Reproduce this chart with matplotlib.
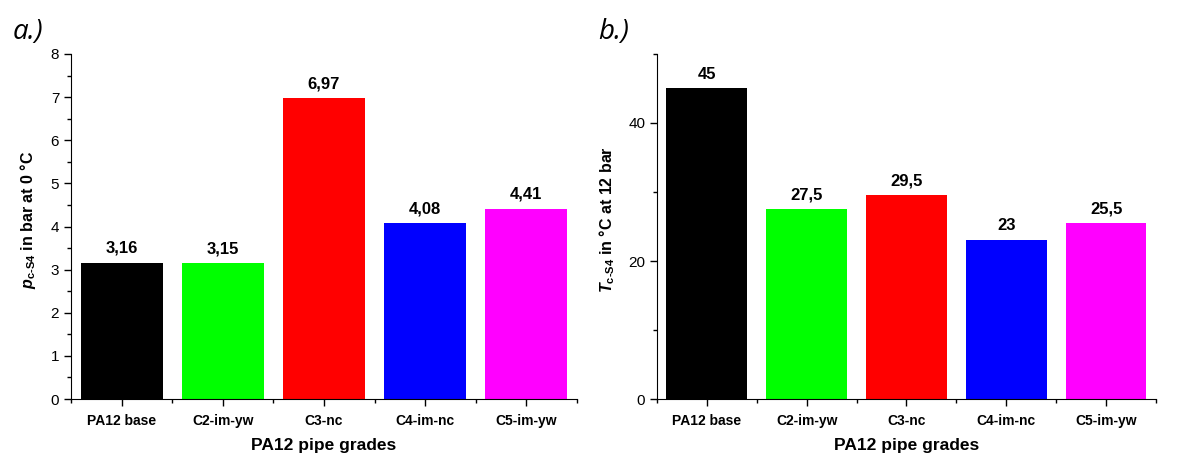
import numpy as np
import matplotlib
matplotlib.use('Agg')
import matplotlib.pyplot as plt
from matplotlib.ticker import MultipleLocator

plt.rcParams['font.family'] = 'Liberation Sans'
plt.rcParams['mathtext.fontset'] = 'custom'
plt.rcParams['mathtext.rm'] = 'Liberation Sans:bold'
plt.rcParams['mathtext.it'] = 'Liberation Sans:italic:bold'
plt.rcParams['mathtext.bf'] = 'Liberation Sans:bold'

# data
grades = ['PA12 base', 'C2-im-yw', 'C3-nc', 'C4-im-nc', 'C5-im-yw']
p_cs4 = [3.16, 3.15, 6.97, 4.08, 4.41]
p_lbl = ['3,16', '3,15', '6,97', '4,08', '4,41']
t_cs4 = [45, 27.5, 29.5, 23, 25.5]
t_lbl = ['45', '27,5', '29,5', '23', '25,5']
colors = ['#000000', '#00ff00', '#ff0000', '#0000ff', '#ff00ff']

fig = plt.figure(figsize=(11.78, 4.53), dpi=100)
ax1 = fig.add_axes([0.0603, 0.1192, 0.4295, 0.7616])
ax2 = fig.add_axes([0.5577, 0.1192, 0.4236, 0.7616])

x = np.arange(1, len(grades) + 1)


def setup(ax, vals, lbls, ylim, major, minor, ylabel, lx):
    ax.bar(x, vals, width=0.81, color=colors)
    for xi, v, l in zip(x, vals, lbls):
        ax.annotate(l, (xi, v), xytext=(0, 5), textcoords='offset points',
                    ha='center', va='bottom', fontsize=12, fontweight='bold')
    ax.set_xlim(0.5, 5.5)
    ax.set_ylim(*ylim)
    ax.yaxis.set_major_locator(MultipleLocator(major))
    ax.yaxis.set_minor_locator(MultipleLocator(minor))
    ax.set_xticks(x)
    ax.set_xticks(np.arange(0.5, 6, 1), minor=True)
    ax.set_xticklabels(grades, fontsize=10, fontweight='bold')
    ax.tick_params(axis='y', labelsize=11, length=5, width=1)
    ax.tick_params(axis='x', length=5, width=1, pad=6)
    ax.tick_params(which='minor', length=3, width=1)
    ax.spines['top'].set_visible(False)
    ax.spines['right'].set_visible(False)
    ax.set_xlabel('PA12 pipe grades', fontsize=12.5, fontweight='bold', labelpad=7)
    ax.set_ylabel(ylabel, fontsize=11.5, fontweight='bold')
    ax.yaxis.set_label_coords(lx, 0.52)


setup(ax1, p_cs4, p_lbl, (0, 8), 1, 0.5,
      r'$p_{\mathrm{c\text{-}S4}}$ in bar at 0 °C', -0.066)
setup(ax2, t_cs4, t_lbl, (0, 50), 20, 10,
      r'$T_{\mathrm{c\text{-}S4}}$ in °C at 12 bar', -0.08)

fig.text(0.011, 0.93, 'a.)', fontsize=20, style='italic', family='Open Sans', va='center')
fig.text(0.508, 0.93, 'b.)', fontsize=20, style='italic', family='Open Sans', va='center')

fig.savefig('out.png', dpi=100)
